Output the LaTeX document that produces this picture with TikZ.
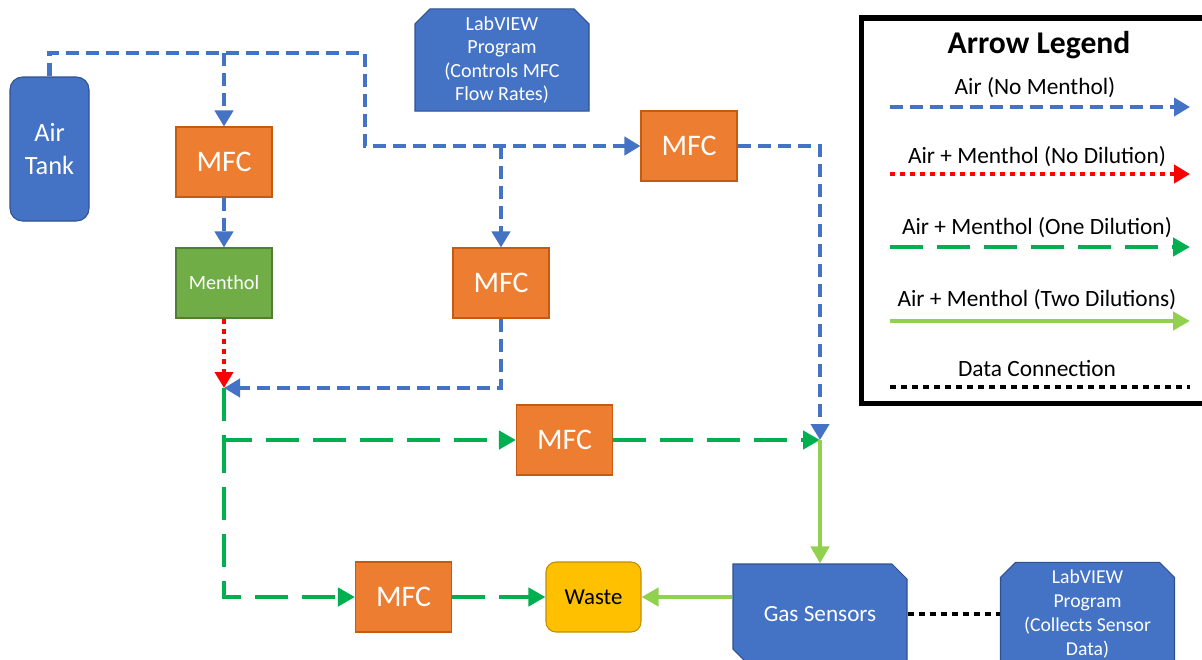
\documentclass[tikz,border=0pt]{standalone}
\usepackage{fontspec}
\setmainfont{Carlito}
\usetikzlibrary{arrows.meta,shapes.misc}
\definecolor{boxblue}{HTML}{4472C4}
\definecolor{boxblueedge}{HTML}{2F528F}
\definecolor{mfcorange}{HTML}{ED7D31}
\definecolor{mfcedge}{HTML}{C55A11}
\definecolor{menthgreen}{HTML}{70AD47}
\definecolor{menthedge}{HTML}{507E32}
\definecolor{wasteyellow}{HTML}{FFC000}
\definecolor{wasteedge}{HTML}{BF9000}
\definecolor{airline}{HTML}{4472C4}
\definecolor{oneline}{HTML}{00B050}
\definecolor{twoline}{HTML}{92D050}

\begin{document}
\begin{tikzpicture}[
    mfc/.style={rectangle, draw=mfcedge, fill=mfcorange, line width=0.6pt, minimum width=1.92cm, minimum height=1.4cm, text=white, font=\fontsize{17}{20}\selectfont},
    tankbox/.style={rectangle, rounded corners=0.25cm, draw=boxblueedge, fill=boxblue, line width=0.6pt, minimum width=1.58cm, minimum height=2.88cm, text=white, align=center, font=\fontsize{15}{18.7}\selectfont},
    menthbox/.style={rectangle, draw=menthedge, fill=menthgreen, line width=0.6pt, minimum width=1.92cm, minimum height=1.4cm, text=white, font=\fontsize{11.5}{14}\selectfont},
    wastebox/.style={rectangle, rounded corners=0.2cm, draw=wasteedge, fill=wasteyellow, line width=0.6pt, minimum width=1.9cm, minimum height=1.4cm, font=\fontsize{13}{15}\selectfont},
    progbox/.style={chamfered rectangle, chamfered rectangle xsep=0.15cm, chamfered rectangle ysep=0.15cm, draw=boxblueedge, fill=boxblue, line width=0.6pt, minimum width=3.48cm, minimum height=2cm, text=white, align=center, inner sep=0pt, font=\fontsize{11.4}{13.4}\selectfont},
    air/.style={-{Triangle[width=0.36cm,length=0.32cm]}, line width=2.8pt, draw=airline, dash pattern=on 0.26cm off 0.14cm},
    pure/.style={-{Triangle[width=0.36cm,length=0.32cm]}, line width=2.8pt, draw=red, dash pattern=on 0.1cm off 0.1cm},
    onedil/.style={-{Triangle[width=0.36cm,length=0.34cm]}, line width=2.8pt, draw=oneline, dash pattern=on 0.66cm off 0.28cm},
    twodil/.style={-{Triangle[width=0.36cm,length=0.34cm]}, line width=2.8pt, draw=twoline},
    data/.style={line width=2.8pt, draw=black, dash pattern=on 0.12cm off 0.1cm},
    leglabel/.style={font=\fontsize{13.3}{16}\selectfont}
]
\useasboundingbox (0,0) rectangle (24.04,-13.18);

% Sources
\node[tankbox] (tank) at (0.99,-2.98) {Air\\Tank};
\node[progbox, chamfered rectangle corners={north west, north east}] (labA) at (10.04,-1.2) {LabVIEW\\Program\\(Controls MFC\\Flow Rates)};

% Flow controllers
\node[mfc] (mfcA) at (4.48,-3.24) {MFC};
\node[menthbox] (menthol) at (4.48,-5.66) {Menthol};
\node[mfc] (mfcB) at (13.78,-2.92) {MFC};
\node[mfc] (mfcC) at (10.02,-5.66) {MFC};
\node[mfc] (mfcD) at (11.29,-8.8) {MFC};
\node[mfc] (mfcE) at (8.07,-11.94) {MFC};

% Outlets
\node[wastebox] (waste) at (11.87,-11.94) {Waste};
\node[progbox, chamfered rectangle corners={north east, south west}, font=\fontsize{13.2}{16}\selectfont] (gas) at (16.4,-12.28) {Gas Sensors};
\node[progbox, chamfered rectangle corners={north west, north east}, font=\fontsize{11.2}{13.6}\selectfont] (labB) at (21.75,-12.28) {LabVIEW\\Program\\(Collects Sensor\\Data)};

% Junctions
\coordinate (cornerA) at (7.3,-1.06);
\coordinate (split) at (4.48,-7.76);
\coordinate (join) at (16.4,-8.8);
\coordinate (fork) at (4.48,-8.8);

% Air lines
\draw[air] (tank.north) |- (cornerA) |- (mfcB.west);
\draw[air] (mfcA.north |- cornerA) -- (mfcA.north);
\draw[air] (mfcA) -- (menthol);
\draw[air] (mfcC.north |- mfcB.west) -- (mfcC.north);
\draw[air] (mfcB.east) -| (join);
\draw[air] (mfcC.south) |- (split);

% Menthol lines
\draw[pure] (menthol) -- (split);
\draw[onedil] (split) |- (mfcD.west);
\draw[onedil] (fork) |- (mfcE.west);
\draw[onedil] (mfcD) -- (join);
\draw[onedil] (mfcE) -- (waste);
\draw[twodil] (join) -- (gas.north);
\draw[twodil] (gas.west |- waste.east) -- (waste.east);

% Data connection
\draw[data] (gas.east) -- (labB.west);

% Legend
\draw[line width=3.4pt] (17.23,-0.36) rectangle (24.4,-8.07);
\node[font=\fontsize{18}{22}\bfseries] (legtitle) at (20.78,-0.9) {Arrow Legend};
\node[leglabel] (leg1) at (20.7,-1.76) {Air (No Menthol)};
\node[leglabel] (leg2) at (20.74,-3.14) {Air + Menthol (No Dilution)};
\node[leglabel] (leg3) at (20.74,-4.56) {Air + Menthol (One Dilution)};
\node[leglabel] (leg4) at (20.74,-6.0) {Air + Menthol (Two Dilutions)};
\node[leglabel] (leg5) at (20.74,-7.36) {Data Connection};

\coordinate (l1a) at (17.8,-2.14);
\coordinate (l1b) at (23.8,-2.14);
\coordinate (l2a) at (17.8,-3.48);
\coordinate (l2b) at (23.8,-3.48);
\coordinate (l3a) at (17.8,-4.94);
\coordinate (l3b) at (23.8,-4.94);
\coordinate (l4a) at (17.8,-6.42);
\coordinate (l4b) at (23.8,-6.42);
\coordinate (l5a) at (17.8,-7.74);
\coordinate (l5b) at (23.8,-7.74);

\draw[air] (l1a) -- (l1b);
\draw[pure] (l2a) -- (l2b);
\draw[onedil] (l3a) -- (l3b);
\draw[twodil] (l4a) -- (l4b);
\draw[data] (l5a) -- (l5b);

\end{tikzpicture}
\end{document}
